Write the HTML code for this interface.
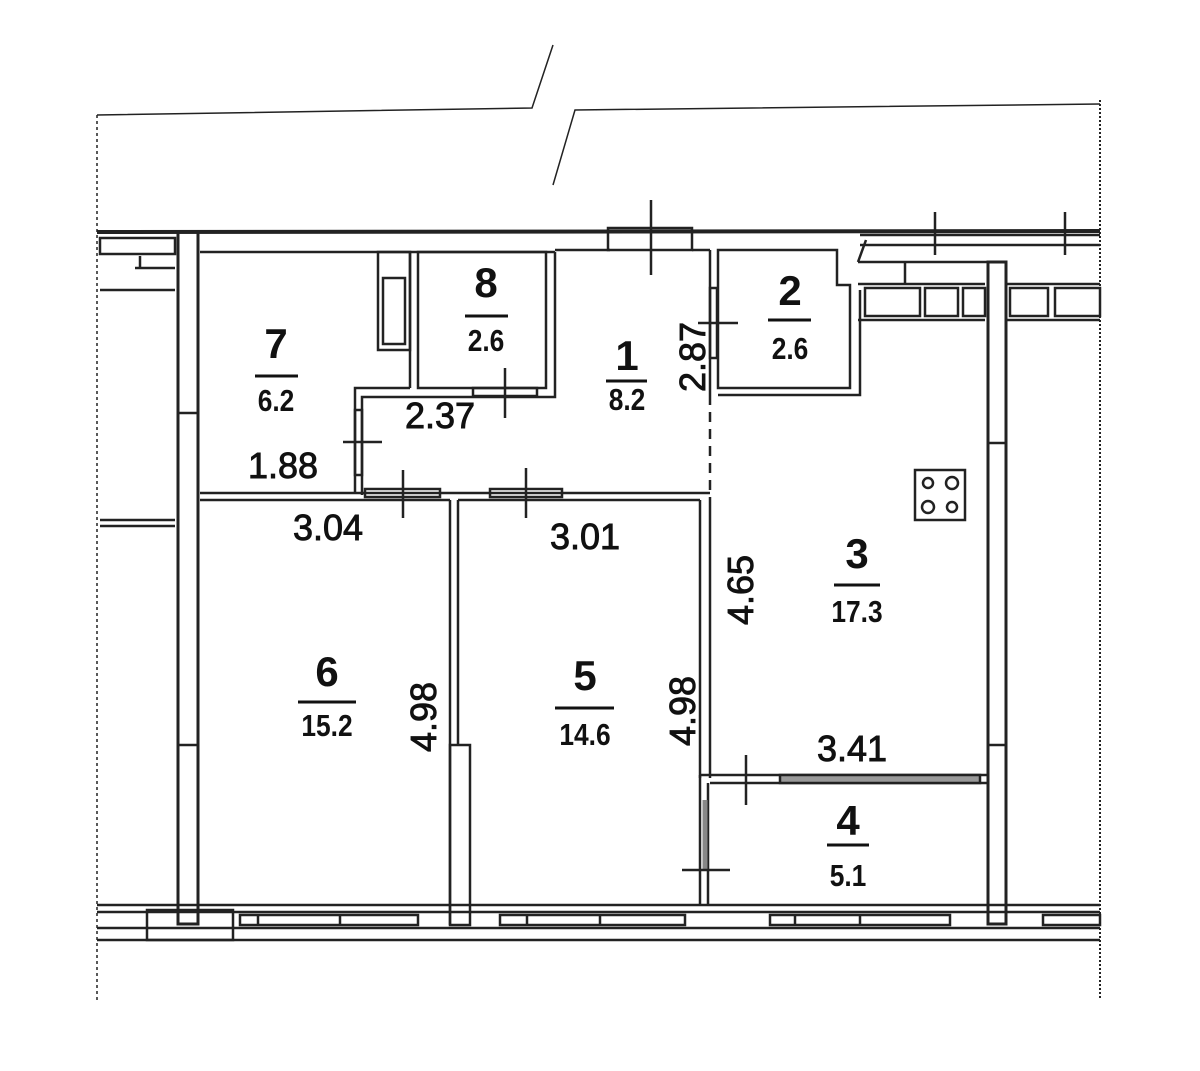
<!DOCTYPE html>
<html><head><meta charset="utf-8"><style>
html,body{margin:0;padding:0;background:#fff}
svg{display:block}
text{font-family:"Liberation Sans",sans-serif;fill:#111;text-anchor:middle}
.n{font-size:42px;font-weight:bold}
.a{font-size:31px;font-weight:bold}
.d{font-size:36px;stroke:#111;stroke-width:0.9}
</style></head><body>
<svg width="1200" height="1071" viewBox="0 0 1200 1071" xmlns="http://www.w3.org/2000/svg">
<g fill="none" stroke="#222" stroke-width="2.5">
<path d="M97 115 L532 108 L553 45" stroke-width="1.5"/>
<path d="M553 185 L575 110 L1100 104" stroke-width="1.5"/>
<line x1="97" y1="115" x2="97" y2="1000" stroke-dasharray="3,3" stroke-width="1.5"/>
<line x1="1100" y1="100" x2="1100" y2="1000" stroke-dasharray="2,2" stroke-width="2"/>
<line x1="97" y1="232" x2="1100" y2="231" stroke-width="4"/>
<line x1="200" y1="252" x2="555" y2="252"/>
<line x1="555" y1="250" x2="610" y2="250"/>
<line x1="692" y1="250" x2="710" y2="250"/>
<rect x="608" y="228" width="84" height="22"/>
<line x1="651" y1="200" x2="651" y2="275"/>
<rect x="100" y="238" width="75" height="16"/>
<path d="M100 290 H175 M100 520 H175 M100 526 H175 M135 268 H175 M140 256 V268"/>
<rect x="178" y="232" width="20" height="692" stroke-width="3"/>
<line x1="178" y1="413" x2="198" y2="413"/>
<line x1="178" y1="745" x2="198" y2="745"/>
<rect x="378" y="252" width="32" height="98"/>
<rect x="383" y="278" width="22" height="66"/>
<line x1="410" y1="252" x2="410" y2="388"/>
<rect x="418" y="252" width="128" height="136"/>
<path d="M555 252 V397 H362 V495"/>
<path d="M410 388 H355 V493"/>
<rect x="355" y="410" width="7" height="65"/>
<line x1="343" y1="442" x2="382" y2="442"/>
<rect x="473" y="388" width="64" height="8"/>
<line x1="505" y1="368" x2="505" y2="418"/>
<line x1="200" y1="493" x2="710" y2="493"/>
<line x1="200" y1="500" x2="450" y2="500"/>
<line x1="458" y1="500" x2="700" y2="500"/>
<rect x="365" y="489" width="75" height="8"/>
<line x1="403" y1="470" x2="403" y2="518"/>
<rect x="490" y="489" width="72" height="8"/>
<line x1="526" y1="468" x2="526" y2="518"/>
<line x1="450" y1="500" x2="450" y2="925"/>
<line x1="458" y1="500" x2="458" y2="745"/>
<rect x="450" y="745" width="20" height="180"/>
<line x1="700" y1="500" x2="700" y2="778"/>
<line x1="710" y1="500" x2="710" y2="778"/>
<line x1="710" y1="250" x2="710" y2="395"/>
<line x1="710" y1="395" x2="710" y2="500" stroke-dasharray="10,7"/>
<rect x="710" y="288" width="7" height="70"/>
<line x1="698" y1="323" x2="738" y2="323"/>
<path d="M718 250 H837 V285 H850 V388 H718 Z"/>
<path d="M718 395 H860 V290"/>
<path d="M860 235 H1100 M860 245 H1100 M858 262 L866 240 M858 262 H988 M905 262 V285 M858 284 H985 M1005 284 H1100 M858 320 H985 M1005 320 H1100"/>
<path d="M865 288 H920 V316 H865 Z M925 288 H958 V316 H925 Z M963 288 H985 V316 H963 Z M1010 288 H1048 V316 H1010 Z M1055 288 H1100 V316 H1055 Z"/>
<line x1="935" y1="212" x2="935" y2="255"/>
<line x1="1065" y1="212" x2="1065" y2="255"/>
<rect x="988" y="262" width="18" height="662" stroke-width="3"/>
<line x1="988" y1="443" x2="1006" y2="443"/>
<line x1="988" y1="745" x2="1006" y2="745"/>
<rect x="915" y="470" width="50" height="50"/>
<circle cx="928" cy="483" r="5"/><circle cx="952" cy="483" r="6"/>
<circle cx="928" cy="507" r="6"/><circle cx="952" cy="507" r="5"/>
<path d="M700 775 H988 M710 783 H988 M700 775 V905 M708 783 V905" stroke-width="2.5"/>
<rect x="780" y="775" width="200" height="8" fill="#999"/>
<line x1="705" y1="800" x2="705" y2="870" stroke="#888" stroke-width="5"/>
<line x1="746" y1="755" x2="746" y2="805"/>
<line x1="682" y1="870" x2="730" y2="870"/>
<line x1="97" y1="905" x2="1100" y2="905" stroke-width="2.5"/>
<line x1="97" y1="912" x2="1100" y2="912"/>
<line x1="97" y1="928" x2="1100" y2="928" stroke-width="2.5"/>
<line x1="97" y1="940" x2="1100" y2="940"/>
<rect x="147" y="910" width="86" height="30"/>
<path d="M240 915 H418 V925 H240 Z M500 915 H685 V925 H500 Z M770 915 H950 V925 H770 Z M1043 915 H1100 V925 H1043 Z"/>
<path d="M258 915 V925 M340 915 V925 M527 915 V925 M600 915 V925 M795 915 V925 M860 915 V925"/>
</g>
<g stroke="#111" stroke-width="3">
<line x1="255" y1="376" x2="298" y2="376"/>
<line x1="465" y1="316" x2="508" y2="316"/>
<line x1="606" y1="381" x2="647" y2="381"/>
<line x1="768" y1="320" x2="811" y2="320"/>
<line x1="834" y1="585" x2="880" y2="585"/>
<line x1="298" y1="702" x2="356" y2="702"/>
<line x1="555" y1="708" x2="614" y2="708"/>
<line x1="827" y1="845" x2="869" y2="845"/>
</g>
<text class="n" x="276" y="358">7</text><text class="a" transform="translate(276,411) scale(0.85,1)" x="0" y="0">6.2</text>
<text class="n" x="486" y="297">8</text><text class="a" transform="translate(486,351) scale(0.85,1)">2.6</text>
<text class="n" x="627" y="370">1</text><text class="a" transform="translate(627,410) scale(0.85,1)">8.2</text>
<text class="n" x="790" y="305">2</text><text class="a" transform="translate(790,359) scale(0.85,1)">2.6</text>
<text class="n" x="857" y="568">3</text><text class="a" transform="translate(857,622) scale(0.85,1)">17.3</text>
<text class="n" x="327" y="686">6</text><text class="a" transform="translate(327,736) scale(0.85,1)">15.2</text>
<text class="n" x="585" y="690">5</text><text class="a" transform="translate(585,745) scale(0.85,1)">14.6</text>
<text class="n" x="848" y="835">4</text><text class="a" transform="translate(848,886) scale(0.85,1)">5.1</text>
<text class="d" x="440" y="428">2.37</text>
<text class="d" x="283" y="478">1.88</text>
<text class="d" x="328" y="540">3.04</text>
<text class="d" x="585" y="549">3.01</text>
<text class="d" x="852" y="761">3.41</text>
<text class="d" transform="translate(705,357) rotate(-90)">2.87</text>
<text class="d" transform="translate(753,590) rotate(-90)">4.65</text>
<text class="d" transform="translate(436,717) rotate(-90)">4.98</text>
<text class="d" transform="translate(695,711) rotate(-90)">4.98</text>
</svg>
</body></html>
